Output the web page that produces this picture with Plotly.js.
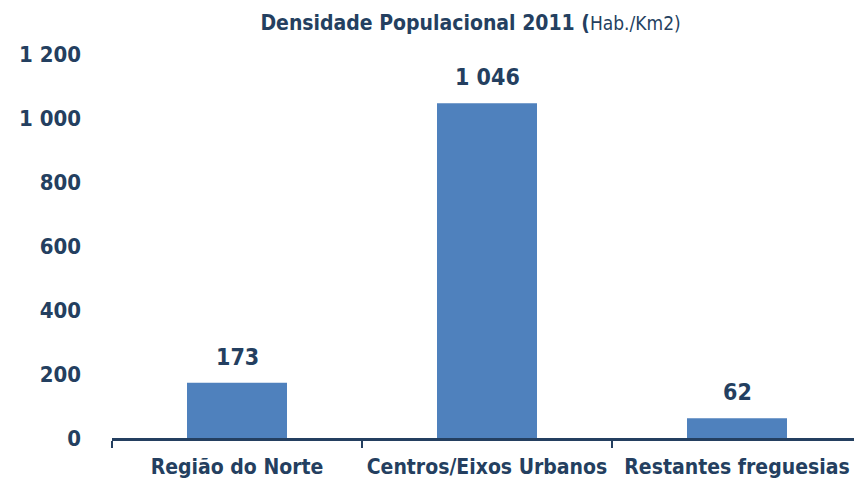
<!DOCTYPE html>
<html>
<head>
<meta charset="utf-8">
<script src="https://cdn.plot.ly/plotly-3.0.1.min.js"></script>
<style>html,body{margin:0;padding:0;background:#fff;}#chart{width:854px;height:480px;}</style>
</head>
<body>
<div id="chart"></div>
<script>
const categories = ["Região do Norte", "Centros/Eixos Urbanos", "Restantes freguesias"];
const values = [173, 1046, 62];
const yTicks = [0, 200, 400, 600, 800, 1000, 1200];

const textColor = "#243F60";
const fontFamily = "'DejaVu Sans Condensed', 'DejaVu Sans', sans-serif";

function fmt(v) {
  return String(v).replace(/\B(?=(\d{3})+(?!\d))/g, " ");
}

const data = [{
  type: "bar",
  x: categories,
  y: values,
  width: 0.4,
  marker: {color: "#4F81BD"},
  hoverinfo: "none"
}];

const annotations = categories.map(function (c, i) {
  return {
    x: c, y: values[i], xref: "x", yref: "y",
    text: "<b>" + fmt(values[i]) + "</b>",
    showarrow: false, yanchor: "bottom", yshift: 11,
    font: {family: fontFamily, size: 23, color: textColor}
  };
});

const layout = {
  width: 854, height: 480,
  margin: {l: 112, r: 0, t: 54, b: 42},
  paper_bgcolor: "#fff", plot_bgcolor: "#fff",
  separators: ", ",
  showlegend: false,
  font: {family: fontFamily, color: textColor},
  annotations: annotations,
  title: {
    text: "<b>Densidade Populacional 2011 (</b><span style='font-size:19px'>Hab./Km2)</span>",
    font: {family: fontFamily, size: 21, color: textColor},
    x: 0.551, xanchor: "center", y: 0.953, yanchor: "middle"
  },
  xaxis: {
    type: "category",
    range: [-0.5, 2.468],
    showline: true, linecolor: textColor, linewidth: 3,
    ticks: "outside", tickson: "boundaries", ticklen: 7, tickwidth: 2, tickcolor: textColor,
    ticklabelstandoff: 8, tickangle: 0, automargin: false,
    tickfont: {family: fontFamily, size: 21, color: textColor, weight: "bold"},
    showgrid: false, zeroline: false,
    fixedrange: true
  },
  yaxis: {
    range: [0, 1200],
    tickvals: yTicks,
    separatethousands: true,
    tickformat: ",d",
    showline: false, showgrid: false, zeroline: false,
    ticks: "", ticklabelstandoff: 30,
    tickfont: {family: fontFamily, size: 22, color: textColor, weight: "bold"},
    fixedrange: true
  }
};

Plotly.newPlot("chart", data, layout, {displayModeBar: false, staticPlot: true});
</script>
</body>
</html>
